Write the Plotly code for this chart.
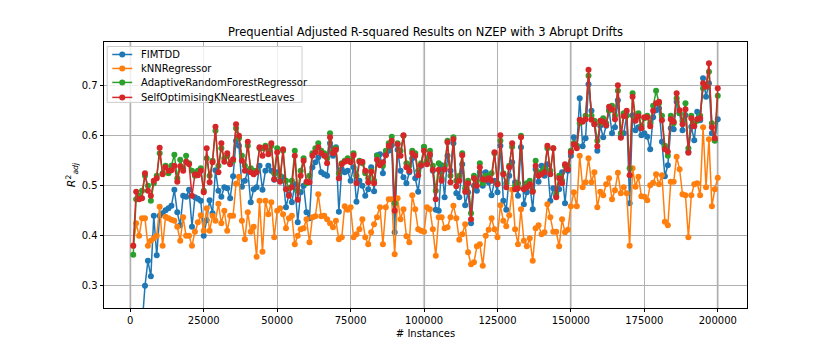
import plotly.graph_objects as go

# evaluation points: every 1000 instances
instances = list(range(1000, 200001, 1000))

fimtdd = [
    -0.200, 0.000, 0.100, 0.220, 0.300, 0.350, 0.319, 0.440, 0.361, 0.440,
    0.445, 0.451, 0.455, 0.460, 0.492, 0.447, 0.421, 0.480, 0.478, 0.492,
    0.418, 0.477, 0.474, 0.470, 0.400, 0.431, 0.471, 0.445, 0.531, 0.490,
    0.478, 0.497, 0.495, 0.475, 0.519, 0.590, 0.580, 0.498, 0.510, 0.530,
    0.467, 0.493, 0.497, 0.540, 0.492, 0.530, 0.540, 0.530, 0.512, 0.527,
    0.510, 0.517, 0.457, 0.483, 0.467, 0.503, 0.427, 0.487, 0.500, 0.447,
    0.435, 0.537, 0.547, 0.557, 0.527, 0.523, 0.520, 0.585, 0.560, 0.577,
    0.448, 0.533, 0.527, 0.530, 0.510, 0.537, 0.468, 0.510, 0.500, 0.480,
    0.493, 0.537, 0.489, 0.561, 0.563, 0.525, 0.563, 0.570, 0.581, 0.407,
    0.572, 0.530, 0.517, 0.505, 0.527, 0.555, 0.515, 0.488, 0.540, 0.577,
    0.545, 0.560, 0.530, 0.452, 0.450, 0.541, 0.477, 0.560, 0.530, 0.585,
    0.485, 0.477, 0.543, 0.461, 0.487, 0.425, 0.500, 0.490, 0.527, 0.500,
    0.527, 0.507, 0.481, 0.510, 0.487, 0.580, 0.470, 0.452, 0.520, 0.547,
    0.507, 0.480, 0.577, 0.463, 0.487, 0.503, 0.453, 0.533, 0.508, 0.540,
    0.520, 0.543, 0.470, 0.495, 0.480, 0.493, 0.527, 0.465, 0.530, 0.560,
    0.597, 0.580, 0.675, 0.579, 0.595, 0.703, 0.650, 0.623, 0.570, 0.620,
    0.597, 0.620, 0.651, 0.605, 0.617, 0.671, 0.598, 0.605, 0.641, 0.465,
    0.641, 0.611, 0.617, 0.601, 0.605, 0.598, 0.573, 0.637, 0.651, 0.655,
    0.588, 0.519, 0.541, 0.615, 0.613, 0.668, 0.645, 0.611, 0.641, 0.568,
    0.618, 0.591, 0.648, 0.631, 0.715, 0.678, 0.705, 0.605, 0.591, 0.633,
]

knn = [
    0.380, 0.425, 0.400, 0.435, 0.435, 0.380, 0.390, 0.395, 0.400, 0.458,
    0.380, 0.438, 0.435, 0.432, 0.430, 0.418, 0.390, 0.437, 0.400, 0.400,
    0.380, 0.408, 0.427, 0.441, 0.410, 0.455, 0.410, 0.440, 0.430, 0.464,
    0.425, 0.450, 0.410, 0.440, 0.440, 0.504, 0.518, 0.430, 0.393, 0.447,
    0.408, 0.418, 0.358, 0.470, 0.368, 0.470, 0.443, 0.467, 0.397, 0.450,
    0.455, 0.443, 0.415, 0.435, 0.440, 0.383, 0.400, 0.413, 0.415, 0.433,
    0.387, 0.437, 0.439, 0.483, 0.439, 0.440, 0.433, 0.425, 0.417, 0.430,
    0.393, 0.397, 0.459, 0.452, 0.457, 0.397, 0.403, 0.413, 0.433, 0.397,
    0.383, 0.407, 0.423, 0.437, 0.457, 0.383, 0.457, 0.473, 0.473, 0.363,
    0.475, 0.433, 0.453, 0.399, 0.387, 0.481, 0.453, 0.413, 0.410, 0.408,
    0.457, 0.453, 0.413, 0.360, 0.437, 0.437, 0.415, 0.417, 0.437, 0.460,
    0.435, 0.392, 0.403, 0.423, 0.367, 0.343, 0.347, 0.379, 0.383, 0.340,
    0.400, 0.412, 0.435, 0.413, 0.397, 0.461, 0.430, 0.419, 0.441, 0.492,
    0.413, 0.383, 0.453, 0.390, 0.379, 0.395, 0.350, 0.415, 0.421, 0.403,
    0.407, 0.463, 0.437, 0.408, 0.408, 0.379, 0.433, 0.407, 0.412, 0.459,
    0.487, 0.459, 0.560, 0.497, 0.507, 0.555, 0.507, 0.527, 0.457, 0.488,
    0.481, 0.503, 0.515, 0.473, 0.491, 0.526, 0.485, 0.497, 0.485, 0.380,
    0.535, 0.498, 0.518, 0.479, 0.478, 0.471, 0.501, 0.506, 0.523, 0.503,
    0.521, 0.428, 0.421, 0.508, 0.508, 0.558, 0.533, 0.483, 0.481, 0.397,
    0.481, 0.503, 0.505, 0.481, 0.617, 0.497, 0.593, 0.459, 0.493, 0.516,
]

arf = [
    0.362, 0.473, 0.480, 0.490, 0.520, 0.500, 0.470, 0.505, 0.520, 0.565,
    0.525, 0.540, 0.525, 0.540, 0.562, 0.515, 0.552, 0.535, 0.560, 0.545,
    0.530, 0.520, 0.530, 0.535, 0.490, 0.555, 0.520, 0.550, 0.610, 0.540,
    0.575, 0.555, 0.560, 0.545, 0.550, 0.615, 0.595, 0.560, 0.540, 0.580,
    0.535, 0.530, 0.530, 0.575, 0.575, 0.580, 0.570, 0.580, 0.525, 0.575,
    0.520, 0.570, 0.510, 0.495, 0.510, 0.570, 0.490, 0.530, 0.555, 0.505,
    0.520, 0.565, 0.575, 0.585, 0.570, 0.565, 0.555, 0.605, 0.570, 0.575,
    0.525, 0.545, 0.550, 0.555, 0.550, 0.565, 0.520, 0.550, 0.545, 0.525,
    0.515, 0.530, 0.510, 0.560, 0.545, 0.540, 0.570, 0.585, 0.598, 0.465,
    0.585, 0.570, 0.600, 0.545, 0.540, 0.570, 0.565, 0.530, 0.545, 0.578,
    0.550, 0.570, 0.540, 0.490, 0.545, 0.515, 0.540, 0.590, 0.520, 0.597,
    0.510, 0.520, 0.565, 0.495, 0.510, 0.445, 0.520, 0.510, 0.545, 0.505,
    0.520, 0.520, 0.525, 0.565, 0.505, 0.590, 0.525, 0.505, 0.540, 0.578,
    0.500, 0.505, 0.600, 0.495, 0.505, 0.510, 0.490, 0.550, 0.525, 0.528,
    0.535, 0.575, 0.530, 0.575, 0.485, 0.520, 0.510, 0.540, 0.540, 0.570,
    0.585, 0.580, 0.625, 0.630, 0.640, 0.720, 0.640, 0.630, 0.590, 0.625,
    0.635, 0.625, 0.650, 0.660, 0.640, 0.690, 0.605, 0.645, 0.640, 0.535,
    0.685, 0.635, 0.645, 0.620, 0.635, 0.640, 0.625, 0.660, 0.690, 0.665,
    0.640, 0.580, 0.560, 0.640, 0.625, 0.675, 0.645, 0.630, 0.665, 0.575,
    0.640, 0.625, 0.630, 0.640, 0.695, 0.700, 0.728, 0.625, 0.590, 0.680,
]

soknl = [
    0.380, 0.488, 0.473, 0.475, 0.525, 0.490, 0.480, 0.510, 0.515, 0.576,
    0.523, 0.537, 0.530, 0.531, 0.540, 0.508, 0.539, 0.530, 0.548, 0.543,
    0.480, 0.523, 0.521, 0.530, 0.487, 0.575, 0.507, 0.547, 0.618, 0.527,
    0.585, 0.548, 0.565, 0.543, 0.553, 0.623, 0.600, 0.550, 0.530, 0.588,
    0.527, 0.523, 0.527, 0.577, 0.560, 0.577, 0.563, 0.585, 0.513, 0.567,
    0.508, 0.573, 0.493, 0.480, 0.497, 0.560, 0.472, 0.520, 0.550, 0.508,
    0.507, 0.560, 0.567, 0.577, 0.565, 0.560, 0.545, 0.597, 0.565, 0.572,
    0.515, 0.543, 0.548, 0.550, 0.547, 0.561, 0.505, 0.548, 0.548, 0.530,
    0.507, 0.528, 0.505, 0.552, 0.541, 0.547, 0.561, 0.580, 0.590, 0.450,
    0.583, 0.560, 0.601, 0.537, 0.530, 0.565, 0.560, 0.521, 0.541, 0.570,
    0.543, 0.563, 0.532, 0.473, 0.532, 0.510, 0.533, 0.587, 0.507, 0.593,
    0.499, 0.510, 0.561, 0.488, 0.505, 0.433, 0.515, 0.500, 0.537, 0.513,
    0.512, 0.515, 0.510, 0.567, 0.503, 0.601, 0.523, 0.497, 0.537, 0.585,
    0.493, 0.495, 0.597, 0.493, 0.497, 0.503, 0.488, 0.540, 0.520, 0.523,
    0.527, 0.580, 0.523, 0.575, 0.477, 0.515, 0.505, 0.543, 0.533, 0.567,
    0.583, 0.575, 0.632, 0.628, 0.633, 0.732, 0.632, 0.623, 0.579, 0.630,
    0.628, 0.621, 0.658, 0.653, 0.633, 0.701, 0.596, 0.639, 0.650, 0.521,
    0.678, 0.630, 0.639, 0.615, 0.637, 0.637, 0.619, 0.650, 0.665, 0.668,
    0.631, 0.573, 0.568, 0.633, 0.628, 0.685, 0.651, 0.623, 0.653, 0.566,
    0.635, 0.619, 0.633, 0.635, 0.705, 0.698, 0.745, 0.617, 0.595, 0.695,
]

series = [
    ("FIMTDD", fimtdd, "#1f77b4"),
    ("kNNRegressor", knn, "#ff7f0e"),
    ("AdaptiveRandomForestRegressor", arf, "#2ca02c"),
    ("SelfOptimisingKNearestLeaves", soknl, "#d62728"),
]

# light vertical markers seen on the chart
marker_lines = [0, 100000, 150000, 200000]

FONT = "DejaVu Sans"

fig = go.Figure()
for name, vals, col in series:
    fig.add_trace(go.Scatter(
        x=instances, y=vals, name=name, mode="lines+markers",
        line=dict(color=col, width=1.5),
        marker=dict(color=col, size=6),
        showlegend=False,
    ))

for xv in marker_lines:
    fig.add_shape(type="line", xref="x", yref="paper", x0=xv, x1=xv, y0=0, y1=1,
                  line=dict(color="#d3d3d3", width=2.3), layer="below")

# matplotlib-like compact legend (upper left), in plot-area fractions
fig.add_shape(type="rect", xref="paper", yref="paper", x0=0.005, x1=0.308, y0=0.773, y1=0.983,
              line=dict(color="#cccccc", width=1), fillcolor="rgba(255,255,255,0.8)", layer="above")
leg_rows = [0.953, 0.9005, 0.848, 0.7917]
for (name, vals, col), ly in zip(series, leg_rows):
    fig.add_shape(type="line", xref="paper", yref="paper", x0=0.0128, x1=0.0439, y0=ly, y1=ly,
                  line=dict(color=col, width=1.5), layer="above")
    fig.add_shape(type="circle", xref="paper", yref="paper",
                  x0=0.0284 - 0.0047, x1=0.0284 + 0.0047, y0=ly - 0.0113, y1=ly + 0.0113,
                  line=dict(color=col, width=0), fillcolor=col, layer="above")
    fig.add_annotation(text=name, xref="paper", yref="paper", x=0.0548, y=ly,
                       xanchor="left", yanchor="middle", showarrow=False,
                       font=dict(family=FONT, size=10, color="black"))

axis_common = dict(
    showgrid=True, gridcolor="#b0b0b0", gridwidth=0.8,
    showline=True, linecolor="black", linewidth=0.8, mirror=True,
    ticks="outside", ticklen=3.5, tickwidth=0.8, tickcolor="black",
    zeroline=False, tickfont=dict(family=FONT, size=10, color="black"),
)

# the page body adds an 8px offset, so margins are shifted accordingly
fig.update_layout(
    width=830, height=346,
    paper_bgcolor="white", plot_bgcolor="white",
    margin=dict(l=96, r=91, t=33.5, b=46),
    title=dict(text="Prequential Adjusted R-squared Results on NZEP with 3 Abrupt Drifts",
               x=0.503, xanchor="center", y=0.93, yanchor="middle",
               font=dict(family=FONT, size=11.5, color="black")),
    xaxis=dict(range=[-8950, 209950], tickvals=[0, 25000, 50000, 75000, 100000, 125000, 150000, 175000, 200000],
               tickformat="d",
               title=dict(text="# Instances", font=dict(family=FONT, size=10, color="black"), standoff=4),
               **axis_common),
    yaxis=dict(range=[0.2557, 0.7874], tickvals=[0.3, 0.4, 0.5, 0.6, 0.7], tickformat=".1f",
               title=dict(text="<i>R</i><sup>2</sup><sub><i>adj</i></sub>",
                          font=dict(family=FONT, size=11, color="black"), standoff=3),
               **axis_common),
    showlegend=False,
)

fig.write_html("out.html")
